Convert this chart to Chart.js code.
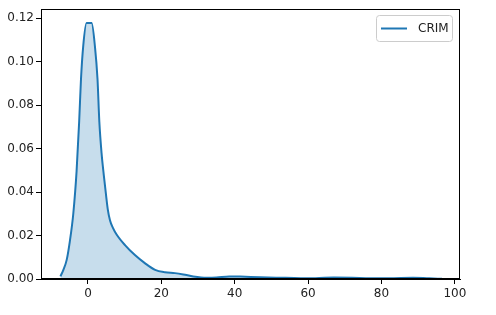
<!DOCTYPE html>
<html>
<head>
<meta charset="utf-8">
<script src="https://cdn.jsdelivr.net/npm/chart.js@4/dist/chart.umd.min.js"></script>
<style>
  html, body { margin: 0; padding: 0; background: #fff; }
  #wrap { width: 496px; height: 315px; position: relative; }
</style>
</head>
<body>
<div id="wrap"><canvas id="c" width="496" height="315"></canvas></div>
<script>
// KDE of CRIM
const seriesLabel = "CRIM";
const xValues = [-7.5, -6.7, -5.8, -4.9, -4.0, -3.1, -2.4, -1.9, -1.3, -0.4, 1.0, 1.9, 2.6, 3.1, 3.7, 4.3, 4.9, 5.4, 6.0, 6.8, 7.8, 10.1, 12.8, 15.5, 18.3, 21.0, 23.7, 26.0, 28.7, 32.3, 35.0, 38.5, 41.5, 46.9, 52, 58, 62, 67, 72, 77, 82, 88.6, 93, 96.5];
const densityValues = [0.0012, 0.0042, 0.0088, 0.0178, 0.030, 0.0496, 0.0723, 0.092, 0.107, 0.1177, 0.1177, 0.107, 0.092, 0.0723, 0.058, 0.048, 0.039, 0.032, 0.027, 0.0235, 0.0205, 0.0156, 0.011, 0.0073, 0.0042, 0.0031, 0.0027, 0.0021, 0.0012, 0.0006, 0.0007, 0.0012, 0.0011, 0.0008, 0.0006, 0.0004, 0.0004, 0.0007, 0.0006, 0.0004, 0.0004, 0.0006, 0.0003, 0.0001];
const xTickValues = [0, 20, 40, 60, 80, 100];
const yTickValues = [0, 0.02, 0.04, 0.06, 0.08, 0.10, 0.12];

const FONT = "'DejaVu Sans', sans-serif";
const C0 = '#1f77b4';

const points = xValues.map((x, i) => ({ x: x, y: densityValues[i] }));

const framePlugin = {
  id: 'frame',
  afterDraw(chart) {
    const ctx = chart.ctx, a = chart.chartArea;
    ctx.save();
    ctx.strokeStyle = '#000';
    ctx.lineWidth = 1;
    ctx.strokeRect(Math.round(a.left) + 0.5, Math.round(a.top) + 0.5,
                   Math.round(a.right - a.left) - 1, Math.round(a.bottom - a.top) - 1);
    // legend
    const ds = chart.data.datasets[0];
    const w = 76, h = 26;
    const x0 = Math.round(a.right) - 8 - w + 0.5;
    const y0 = Math.round(a.top) + 6 + 0.5;
    const r = 3;
    ctx.beginPath();
    ctx.moveTo(x0 + r, y0);
    ctx.lineTo(x0 + w - r, y0);
    ctx.arcTo(x0 + w, y0, x0 + w, y0 + r, r);
    ctx.lineTo(x0 + w, y0 + h - r);
    ctx.arcTo(x0 + w, y0 + h, x0 + w - r, y0 + h, r);
    ctx.lineTo(x0 + r, y0 + h);
    ctx.arcTo(x0, y0 + h, x0, y0 + h - r, r);
    ctx.lineTo(x0, y0 + r);
    ctx.arcTo(x0, y0, x0 + r, y0, r);
    ctx.closePath();
    ctx.fillStyle = 'rgba(255,255,255,0.8)';
    ctx.fill();
    ctx.strokeStyle = '#cccccc';
    ctx.stroke();
    ctx.beginPath();
    ctx.moveTo(x0 + 4.5, y0 + h / 2);
    ctx.lineTo(x0 + 30.5, y0 + h / 2);
    ctx.strokeStyle = C0;
    ctx.lineWidth = 2;
    ctx.stroke();
    ctx.fillStyle = '#222';
    ctx.font = '12px ' + FONT;
    ctx.textBaseline = 'middle';
    ctx.textAlign = 'left';
    ctx.fillText(ds.label, x0 + 41.5, y0 + h / 2 + 0.5);
    ctx.restore();
  }
};

new Chart(document.getElementById('c'), {
  type: 'line',
  data: {
    datasets: [{
      label: seriesLabel,
      data: points,
      borderColor: C0,
      borderWidth: 2,
      backgroundColor: 'rgba(31,119,180,0.25)',
      fill: 'origin',
      pointRadius: 0,
      cubicInterpolationMode: 'monotone'
    }]
  },
  options: {
    responsive: false,
    animation: false,
    layout: { padding: { left: 0, top: 6, right: 36, bottom: 0 } },
    plugins: { legend: { display: false }, tooltip: { enabled: false } },
    scales: {
      x: {
        type: 'linear',
        min: -12.8,
        max: 101.4,
        afterBuildTicks(s) { s.ticks = xTickValues.map(v => ({ value: v })); },
        afterFit(s) { s.height = 36; },
        grid: { display: true, drawOnChartArea: false, drawTicks: true, tickLength: 5, color: '#000', lineWidth: 1 },
        border: { display: true, color: '#000', width: 1 },
        ticks: { color: '#222', font: { family: FONT, size: 12 }, padding: 3, maxRotation: 0,
                 callback: v => String(v) }
      },
      y: {
        type: 'linear',
        min: 0,
        max: 0.1241,
        afterBuildTicks(s) { s.ticks = yTickValues.map(v => ({ value: v })); },
        afterFit(s) { s.width = 41; },
        grid: { display: true, drawOnChartArea: false, drawTicks: true, tickLength: 5, color: '#000', lineWidth: 1 },
        border: { display: true, color: '#000', width: 1 },
        ticks: { color: '#222', font: { family: FONT, size: 12 }, padding: 2,
                 callback: v => Number(v).toFixed(2) }
      }
    }
  },
  plugins: [framePlugin]
});
</script>
</body>
</html>
